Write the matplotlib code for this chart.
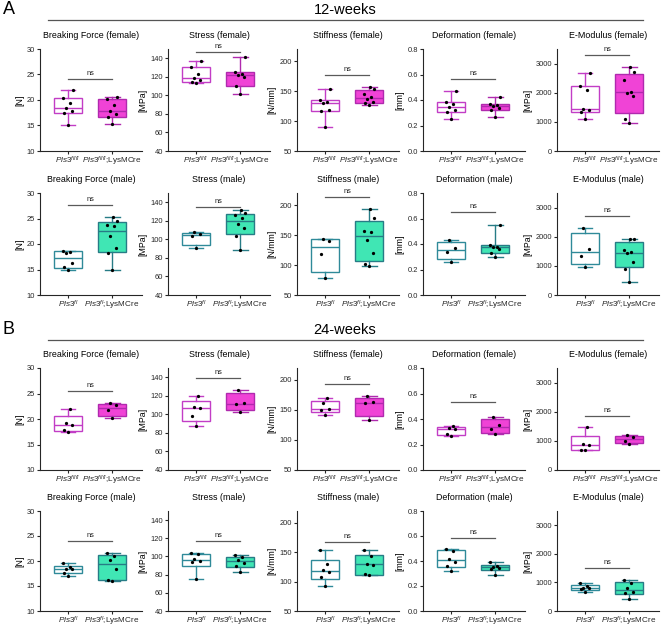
import numpy as np
import matplotlib
matplotlib.use("Agg")
import matplotlib.pyplot as plt
from matplotlib import cbook
from matplotlib.lines import Line2D

plt.rcParams['font.family'] = ['Liberation Sans', 'DejaVu Sans']
plt.rcParams['mathtext.fontset'] = 'custom'
plt.rcParams['mathtext.rm'] = 'Liberation Sans'
plt.rcParams['mathtext.it'] = 'Liberation Sans:italic'

# ---------------- data ----------------
# 12 weeks, female  (control Pls3 fl/fl, Pls3 fl/fl;LysMCre)
bf_f12 = [[15.0, 17.4, 17.9, 18.4, 19.4, 20.3, 21.9], [15.2, 16.6, 17.2, 17.8, 19.0, 20.1, 20.5]]
st_f12 = [[113.0, 114.5, 116.5, 118.4, 123.0, 131.0, 137.0], [101.5, 110.5, 119.5, 122.5, 123.5, 124.8, 141.0]]
sf_f12 = [[90.6, 116.0, 118.0, 130.6, 131.7, 135.0, 153.0], [127.2, 129.4, 132.0, 136.0, 140.6, 144.4, 154.0, 156.7]]
de_f12 = [[0.248, 0.303, 0.32, 0.348, 0.366, 0.385, 0.47], [0.27, 0.32, 0.34, 0.353, 0.36, 0.371, 0.42]]
em_f12 = [[1083, 1345, 1390, 1440, 2087, 2240, 2690], [958, 1083, 1900, 2000, 2040, 2430, 2714, 2873]]
# 12 weeks, male
bf_m12 = [[14.9, 15.5, 16.2, 18.2, 18.5, 18.66], [14.9, 18.3, 19.2, 21.5, 23.5, 23.8, 24.5, 25.3]]
st_m12 = [[90.2, 103.2, 105.5, 108.0], [88.4, 104.0, 112.0, 116.5, 123.0, 126.0, 128.0, 131.7]]
sf_m12 = [[78.2, 118.8, 140.8, 143.6], [98.0, 102.0, 119.4, 141.4, 154.3, 156.6, 178.0, 193.8]]
de_m12 = [[0.26, 0.336, 0.367, 0.43], [0.297, 0.328, 0.362, 0.375, 0.38, 0.395, 0.551]]
em_m12 = [[962, 1352, 1580, 2291], [435, 893, 1120, 1430, 1478, 1546, 1913, 1936]]
# 24 weeks, female
bf_f24 = [[17.5, 17.8, 18.9, 19.15, 22.0], [20.1, 21.8, 22.7, 23.1]]
st_f24 = [[87.8, 98.3, 106.9, 108.3, 120.2], [102.2, 110.9, 112.3, 126.7]]
sf_f24 = [[142.5, 149.3, 151.5, 161.4, 169.4], [132.7, 160.9, 163.6, 173.0]]
de_f24 = [[0.27, 0.282, 0.324, 0.333, 0.342], [0.28, 0.322, 0.353, 0.413]]
em_f24 = [[680, 700, 867, 880, 1460], [889, 980, 1117, 1197]]
# 24 weeks, male
bf_m24 = [[17.1, 17.7, 18.4, 18.5, 18.8, 19.6], [16.1, 16.3, 18.4, 20.3, 21.1, 21.6]]
st_m24 = [[75.1, 94.0, 94.7, 97.5, 103.0, 103.8], [83.1, 89.5, 93.0, 96.4, 99.0, 101.6]]
sf_m24 = [[92.5, 108.2, 115.5, 119.0, 130.6, 154.0], [110.4, 112.1, 127.8, 130.6, 143.4, 153.5]]
de_m24 = [[0.317, 0.36, 0.396, 0.42, 0.483, 0.494], [0.29, 0.338, 0.348, 0.354, 0.358, 0.393]]
em_m24 = [[678, 770, 800, 816, 874, 966], [437, 632, 650, 805, 989, 1092]]

# height of the "ns" comparison bars (data units)
ns_f12 = [24.1, 147.2, 177.2, 0.562, 3284]
ns_m12 = [27.6, 134.6, 213.6, 0.648, 2715]
ns_f24 = [25.4, 138.9, 193.4, 0.533, 1859]
ns_m24 = [24.0, 117.2, 167.0, 0.586, 1506]

measures = ["Breaking Force", "Stress", "Stiffness", "Deformation", "E-Modulus"]
units = ["[N]", "[MPa]", "[N/mm]", "[mm]", "[MPa]"]
ylims = [(10, 30), (40, 150), (50, 220), (0, 0.8), (0, 3500)]
yticks = [[10, 15, 20, 25, 30], [40, 60, 80, 100, 120, 140], [50, 100, 150, 200],
          [0.0, 0.2, 0.4, 0.6, 0.8], [0, 1000, 2000, 3000]]
ytickfmt = ["{:.0f}", "{:.0f}", "{:.0f}", "{:.1f}", "{:.0f}"]
labels_f = [r"$\mathit{Pls3}^{\mathit{fl/fl}}$", r"$\mathit{Pls3}^{\mathit{fl/fl}}$;LysMCre"]
labels_m = [r"$\mathit{Pls3}^{\mathit{fl}}$", r"$\mathit{Pls3}^{\mathit{fl}}$;LysMCre"]

rows = [
    ("female", [bf_f12, st_f12, sf_f12, de_f12, em_f12], ns_f12),
    ("male", [bf_m12, st_m12, sf_m12, de_m12, em_m12], ns_m12),
    ("female", [bf_f24, st_f24, sf_f24, de_f24, em_f24], ns_f24),
    ("male", [bf_m24, st_m24, sf_m24, de_m24, em_m24], ns_m24),
]

colors = {
    "female": dict(edge="#C23DC6", fill="#F043D6", edge2="#B02AAE"),
    "male": dict(edge="#2F8A99", fill="#40E6B4", edge2="#277C86"),
}

# ---------------- layout ----------------
W, H = 661, 630
fig = plt.figure(figsize=(W / 100, H / 100), dpi=100)
col_left = [40, 168, 297, 423, 557]
col_w = 102
row_tb = [(49, 151), (193, 295), (368, 470), (511, 611)]

jitter = np.array([0.0, -0.09, 0.09, -0.04, 0.05, -0.11, 0.11, 0.02])
spine_c = "#262626"

for r, (sex, datasets, nsy) in enumerate(rows):
    top, bot = row_tb[r]
    c = colors[sex]
    for k in range(5):
        ax = fig.add_axes([col_left[k] / W, 1 - bot / H, col_w / W, (bot - top) / H])
        data = datasets[k]
        stats = cbook.boxplot_stats(data, whis=(0, 100))
        for s, d in zip(stats, data):
            q1, med, q3 = np.percentile(d, [25, 50, 75], method="weibull")
            s["q1"], s["med"], s["q3"] = q1, med, q3
        bp = ax.bxp(stats, positions=[0, 1], widths=0.64, capwidths=0.34,
                    patch_artist=True, showfliers=False,
                    boxprops=dict(linewidth=1.0),
                    whiskerprops=dict(linewidth=1.0),
                    capprops=dict(linewidth=1.0),
                    medianprops=dict(linewidth=1.0))
        edges = [c["edge"], c["edge2"]]
        fills = ["white", c["fill"]]
        for i in range(2):
            bp["boxes"][i].set_facecolor(fills[i])
            bp["boxes"][i].set_edgecolor(edges[i])
            bp["medians"][i].set_color(edges[i])
            for w in bp["whiskers"][2 * i:2 * i + 2]:
                w.set_color(edges[i])
            for cp in bp["caps"][2 * i:2 * i + 2]:
                cp.set_color(edges[i])
        for i, d in enumerate(data):
            d = np.asarray(d, dtype=float)
            order = np.argsort(d)
            xs = np.empty(len(d))
            xs[order] = i + jitter[:len(d)]
            ax.scatter(xs, d, s=5.5, color="black", zorder=4, linewidths=0)

        # comparison bar
        ax.plot([0, 1], [nsy[k], nsy[k]], color="#5a5a5a", lw=0.9, clip_on=False)
        ax.annotate("ns", xy=(0.5, nsy[k]), xytext=(0, 1.5), textcoords="offset points",
                    ha="center", va="bottom", fontsize=5.3, color="#222222")

        ax.set_xlim(-0.636, 1.68)
        ax.set_ylim(*ylims[k])
        ax.set_yticks(yticks[k])
        ax.set_yticklabels([ytickfmt[k].format(v) for v in yticks[k]])
        ax.set_xticks([0, 1])
        ax.set_xticklabels(labels_f if sex == "female" else labels_m, fontsize=5.9)
        ax.tick_params(axis="y", labelsize=5.4, length=2, width=0.8, pad=1.5, colors=spine_c)
        ax.tick_params(axis="x", length=2, width=0.8, pad=1.0, colors=spine_c)
        for sp in ["top", "right"]:
            ax.spines[sp].set_visible(False)
        for sp in ["left", "bottom"]:
            ax.spines[sp].set_color(spine_c)
            ax.spines[sp].set_linewidth(0.8)
        ax.set_ylabel(units[k], fontsize=6.3, labelpad=2)
        ax.set_title(f"{measures[k]} ({sex})", fontsize=6.4, pad=8)

# panel headers
for (lbl, ttl, ycen, yline) in [("A", "12-weeks", 10, 20), ("B", "24-weeks", 330, 340)]:
    fig.text(3 / W, 1 - ycen / H, lbl, fontsize=13, va="center", ha="left")
    fig.text(345 / W, 1 - ycen / H, ttl, fontsize=10.5, va="center", ha="center")
    fig.add_artist(Line2D([48 / W, 643 / W], [1 - yline / H] * 2, color="#555555", lw=0.9))

fig.savefig("out.png", dpi=100)
